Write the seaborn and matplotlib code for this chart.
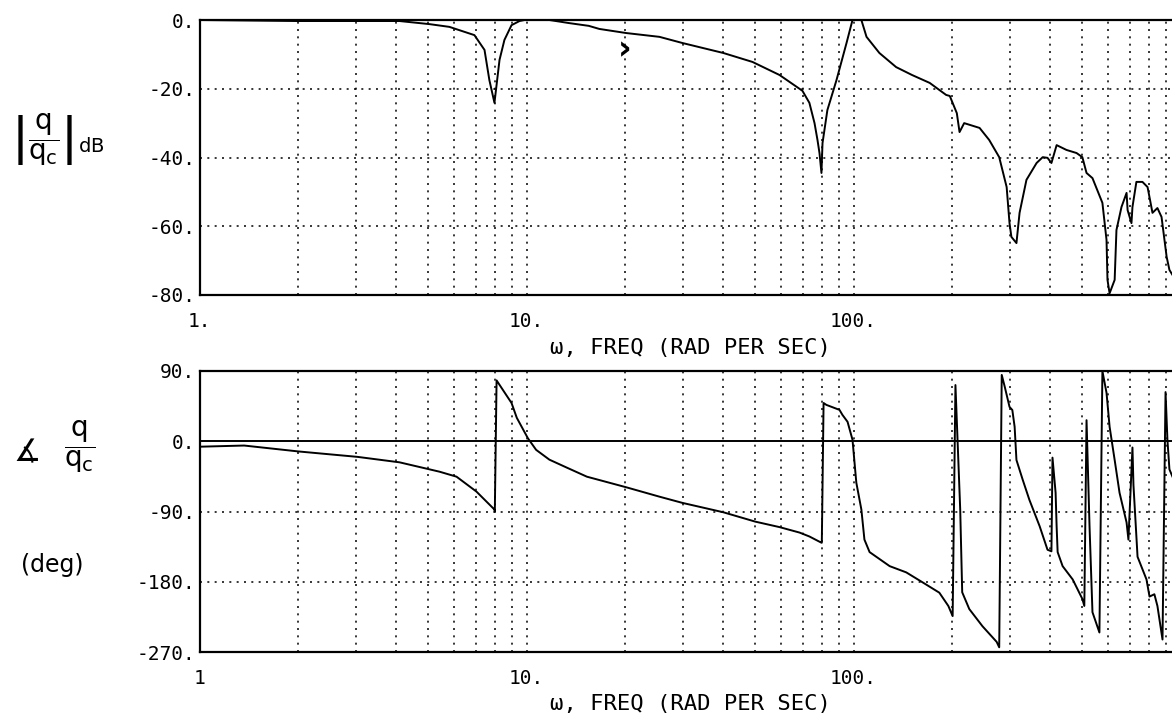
import matplotlib
matplotlib.use("Agg")
import matplotlib.pyplot as plt
from matplotlib.ticker import LogLocator, NullFormatter, FixedLocator
import pandas as pd
import seaborn as sns

# ---- gain of q / q_c (dB) versus frequency (rad/s) ----
mag_freq = [1.0, 2.0, 4.09, 5.05, 5.81, 6.93, 7.44, 7.70, 7.98, 8.27, 8.56, 9.0,
            9.52, 9.86, 11.75, 13.5, 15.5, 16.7, 20.2, 25.5, 30.0, 40.0, 49.1,
            59.4, 69.8, 73.3, 76.0, 77.6, 78.7, 79.8, 80.4, 83.2, 88.7, 95.2,
            99.3, 105.7, 109.6, 120, 135, 151, 171, 192, 197, 207, 211, 218,
            243, 260, 279, 294, 300, 304, 315, 322, 338, 363, 379, 392, 403,
            418, 448, 481, 501, 516, 538, 577, 594, 598, 607, 629, 637, 660,
            684, 689, 708, 713, 733, 765, 793, 821, 850, 875, 907, 925, 1000]
mag_db = [0, -0.3, -0.3, -1.2, -2.0, -4.4, -8.7, -17.5, -24.1, -11.6, -5.8, -1.5,
          -0.3, 0, 0, -0.9, -1.7, -2.6, -3.8, -4.9, -6.7, -9.6, -12.2,
          -16.0, -20.6, -24.1, -30.0, -34.9, -38.7, -44.5, -35.8, -26.2, -17.5, -6.7,
          0, 0, -4.9, -9.6, -13.7, -16.0, -18.3, -21.8, -22.1, -27.1, -32.6, -30.0,
          -31.4, -34.9, -39.9, -48.6, -59.1, -63.1, -64.9, -56.1, -46.5, -41.6, -39.9, -40.1, -41.6,
          -36.4, -37.8, -38.7, -39.9, -44.5, -46.0, -53.2, -64.0, -75.6, -79.5, -75.6, -61.1, -54.4,
          -50.3, -55.3, -59.1, -54.4, -47.1, -47.1, -48.6, -56.1, -54.7, -57.3, -68.9, -72.7, -78]

# ---- phase of q / q_c (deg) versus frequency (rad/s) ----
phase_freq = [1.0, 1.37, 2.0, 3.04, 4.09, 5.42, 6.11, 7.03, 7.98, 8.0, 8.1, 9.0,
              9.34, 10.1, 10.7, 11.75, 13.3, 15.3, 20.2, 25.5, 30.0, 40.0, 50.1,
              59.4, 68.4, 73.3, 79.8, 80.0, 81.0, 82.6, 90.6, 92.5, 95.9, 99.3,
              102, 105.7, 108, 112, 129, 145, 163, 183, 195, 201, 205, 212, 215,
              226, 248, 274, 279, 284, 290, 300, 306, 311, 315, 329, 345, 371,
              392, 403, 406, 415, 418, 421, 436, 468, 501, 508, 516, 527, 538,
              565, 577, 594, 607, 629, 651, 684, 693, 713, 718, 739, 787, 804,
              832, 850, 881, 900, 912, 925, 1000]
phase_deg = [-7, -5.5, -13, -20, -27, -39, -45.4, -64.5, -87.5, -90, 78, 49,
             30, 3.8, -11, -23.6, -33.9, -45.4, -59, -71, -79, -91, -103,
             -110, -117, -122, -130, -130, 49, 46.6, 40.2, 33.8, 24.9, 1.9,
             -53, -87.5, -126, -142, -160, -168, -181, -194, -211, -224, 72, -87.5, -193.5,
             -215, -237, -257, -264, 85, 70, 44, 40, 18.5, -24, -49, -75, -109,
             -139, -141, -21, -66, -109, -142, -160, -177, -202, -211, 27, -109, -219,
             -245, 90, 62, 18.5, -24, -66, -104, -126, -8, -56, -148, -177, -199,
             -196, -211, -254, 63, 2, -36, -70]

mag_ticks = [0, -20, -40, -60, -80]
mag_tick_labels = ["0.", "-20.", "-40.", "-60.", "-80."]
phase_ticks = [90, 0, -90, -180, -270]
phase_tick_labels = ["90.", "0.", "-90.", "-180.", "-270."]
freq_ticks = [1, 10, 100]
freq_labels_top = ["1.", "10.", "100."]
freq_labels_bottom = ["1", "10.", "100."]
freq_title = "ω, FREQ (RAD PER SEC)"

sns.set_theme(style="white")
plt.rcParams["font.family"] = ["DejaVu Sans Mono", "DejaVu Sans"]
plt.rcParams["mathtext.fontset"] = "dejavusans"
for key in ["text.color", "axes.labelcolor", "xtick.color", "ytick.color"]:
    plt.rcParams[key] = "black"

W, H = 1172, 717
fig = plt.figure(figsize=(W / 100, H / 100), dpi=100)
fig.patch.set_facecolor("white")

x0, dec = 199.5, 327.0
ax_w = 3 * dec
ax_mag = fig.add_axes([x0 / W, 1 - 295 / H, ax_w / W, 275 / H])
ax_ph = fig.add_axes([x0 / W, 1 - 652 / H, ax_w / W, 281 / H])

mag_df = pd.DataFrame({"freq": mag_freq, "gain": mag_db})
ph_df = pd.DataFrame({"freq": phase_freq, "phase": phase_deg})

line_kw = dict(color="black", linewidth=1.4, sort=False, estimator=None)
sns.lineplot(data=mag_df, x="freq", y="gain", ax=ax_mag, **line_kw)
sns.lineplot(data=ph_df, x="freq", y="phase", ax=ax_ph, **line_kw)
ax_ph.axhline(0, color="black", linewidth=1.4, zorder=3)

dot = (0, (1.3, 3.5))
for ax, yt, ylab, xlab, ylim, lab_y in [
    (ax_mag, mag_ticks, mag_tick_labels, freq_labels_top, (-80, 0), -0.158),
    (ax_ph, phase_ticks, phase_tick_labels, freq_labels_bottom, (-270, 90), -0.150),
]:
    ax.set_xscale("log")
    ax.set_xlim(1, 1000)
    ax.set_ylim(*ylim)
    ax.set_facecolor("white")
    ax.xaxis.set_major_locator(FixedLocator(freq_ticks))
    ax.set_xticklabels(xlab)
    ax.xaxis.set_minor_locator(LogLocator(base=10, subs=range(2, 10)))
    ax.xaxis.set_minor_formatter(NullFormatter())
    ax.set_yticks(yt)
    ax.set_yticklabels(ylab)
    ax.tick_params(axis="x", which="both", length=0, pad=12, labelsize=14)
    ax.tick_params(axis="y", length=0, pad=3, labelsize=14)
    ax.grid(False)
    for f in [2, 3, 4, 5, 6, 7, 8, 9, 10, 20, 30, 40, 50, 60, 70, 80, 90, 100,
              200, 300, 400, 500, 600, 700, 800, 900]:
        ax.axvline(f, color="black", linewidth=1.1, linestyle=dot, zorder=1)
    for v in yt[1:-1]:
        if v != 0:
            ax.axhline(v, color="black", linewidth=1.1, linestyle=dot, zorder=1)
    for side in ["left", "top", "bottom"]:
        ax.spines[side].set_visible(True)
        ax.spines[side].set_color("black")
        ax.spines[side].set_linewidth(1.6)
    ax.spines["right"].set_visible(False)
    ax.set_ylabel("")
    ax.set_xlabel(freq_title, fontsize=16)
    ax.xaxis.set_label_coords(0.5, lab_y)

ax_mag.text(20, -8.6, "›", fontsize=24, fontweight="bold", ha="center",
            va="center", family="DejaVu Sans")

fig.text(58 / W, 1 - 140 / H,
         r"$\left|\dfrac{\mathrm{q}}{\mathrm{q_c}}\right|_{\mathrm{dB}}$",
         fontsize=20, ha="center", va="center")
fig.text(27 / W, 1 - 453 / H, "∡", fontsize=22, ha="center", va="center",
         family="DejaVu Sans")
fig.text(80 / W, 1 - 447 / H, r"$\dfrac{\mathrm{q}}{\mathrm{q_c}}$",
         fontsize=20, ha="center", va="center")
fig.text(52 / W, 1 - 565 / H, "(deg)", fontsize=17, ha="center", va="center",
         family="DejaVu Sans")

fig.savefig("out.png", dpi=100, facecolor="white")
